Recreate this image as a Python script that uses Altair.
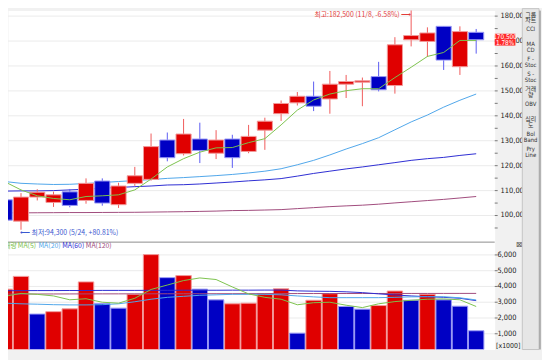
import altair as alt
import pandas as pd

# ---------------- data ----------------
idx = list(range(30))
opens = [106300, 97750, 107400, 105250, 109500, 106050, 113850, 104350, 112900, 114500,
         130300, 124800, 130700, 125000, 130700, 125700, 134250, 140850, 145200, 147850,
         146750, 152700, 153500, 155750, 152150, 170500, 169850, 175900, 159700, 173500]
highs = [106500, 109000, 110550, 109600, 110650, 114900, 114900, 113150, 119500, 132900,
         133300, 138750, 137250, 134250, 132400, 136350, 139250, 146150, 149550, 153750,
         158000, 156400, 155350, 161650, 171550, 182500, 175500, 176000, 175900, 174850]
lows = [98000, 94300, 106050, 103450, 103300, 104750, 103950, 103050, 111900, 114000,
        121750, 124100, 121050, 122650, 119100, 125000, 126350, 137950, 144150, 141900,
        140850, 147150, 143850, 149800, 148900, 167850, 163650, 158400, 156400, 164950]
closes = [98150, 107400, 109350, 108300, 104050, 112900, 105000, 111850, 115950, 127650,
          123200, 132700, 126100, 130300, 123200, 131750, 137850, 144950, 147850, 143850,
          152700, 153750, 154050, 150450, 168500, 172200, 173250, 162350, 173800, 170500]
volumes = [3830, 4640, 2250, 2400, 2580, 4290, 2920, 2625, 3500, 6020,
           4560, 4690, 3830, 3150, 2900, 2940, 3540, 3850, 1040, 3125,
           3540, 2730, 2560, 2790, 3710, 3125, 3500, 3150, 2750, 1190]
vol_up = [1, 1, 0, 1, 1, 1, 0, 0, 1, 1, 0, 1, 0, 0, 1, 1, 1, 1, 0, 1,
          1, 0, 0, 1, 1, 0, 1, 0, 0, 0]
ma5 = [113560, 110280, 107910, 106840, 106320, 107630, 107910, 108300, 110280, 114620,
       119490, 122810, 125420, 127150, 127270, 129250, 130830, 136360, 142290, 146360,
       148740, 150080, 150870, 150870, 155340, 159490, 163830, 165420, 170240, 170240]
ma20 = [113640, 112930, 112650, 112450, 112530, 112850, 113240, 113640, 114030, 114430,
        114900, 115220, 115610, 116010, 116480, 117080, 117790, 118770, 120360, 122130,
        124310, 126680, 128850, 131220, 134390, 137550, 140320, 143480, 146250, 148740]
ma60 = [109800, 109880, 109880, 110000, 110280, 110550, 110950, 111260, 111580, 111850,
        112250, 112370, 112650, 113040, 113440, 113910, 114310, 114820, 115810, 116880,
        117790, 118700, 119490, 120360, 121230, 122130, 122810, 123320, 124110, 124780]
ma120 = [101070, 101070, 101110, 101150, 101190, 101190, 101230, 101260, 101300, 101380,
         101460, 101540, 101660, 101780, 101980, 102060, 102210, 102370, 102770, 103160,
         103560, 103870, 104150, 104550, 105060, 105530, 106010, 106480, 107040, 107630]
vma5 = [3375, 3560, 3500, 3400, 3155, 3220, 3000, 2940, 3250, 3810,
        4090, 4375, 4540, 4440, 3970, 3530, 3310, 3190, 2840, 2970,
        3000, 2810, 2660, 2900, 3040, 3125, 3190, 3210, 3155, 2730]
vma20 = [2940, 2900, 2875, 2845, 2830, 2830, 2845, 2900, 3030, 3190,
         3310, 3375, 3440, 3470, 3500, 3500, 3500, 3470, 3400, 3340,
         3290, 3290, 3290, 3290, 3310, 3340, 3350, 3350, 3280, 3145]
vma60 = [3730, 3735, 3740, 3740, 3745, 3745, 3750, 3750, 3750, 3755,
         3755, 3760, 3760, 3760, 3765, 3765, 3770, 3770, 3720, 3700,
         3690, 3660, 3610, 3530, 3460, 3400, 3350, 3310, 3250, 3100]
vma120 = [3520, 3520, 3522, 3524, 3526, 3528, 3530, 3531, 3532, 3534,
          3536, 3538, 3540, 3541, 3542, 3544, 3546, 3548, 3550, 3551,
          3552, 3553, 3554, 3555, 3556, 3557, 3558, 3559, 3560, 3560]

price_labels = [100000, 110000, 120000, 130000, 140000, 150000, 160000, 170000, 180000]
price_ticks = [95000, 100000, 105000, 110000, 115000, 120000, 125000, 130000, 135000,
               140000, 145000, 150000, 155000, 160000, 165000, 170000, 175000, 180000]
vol_labels = [1000, 2000, 3000, 4000, 5000, 6000]

hi_text = "최고:182,500 (11/8, -6.58%) ⟶"
lo_text = "⟵ 최저:94,300 (5/24, +80.81%)"
last_text = "170,500\n1.78%"
legend_items = ["거래량", "MA(5)", "MA(20)", "MA(60)", "MA(120)"]
menu_items = ["그룹\n차트", "CCI", "MA\nCD", "F -\nStoc", "S -\nStoc", "거래\n량",
              "OBV", "심리\n도", "Bol\nBand", "Pry\nLine"]

# ---------------- styling ----------------
RED, BLUE = "#e00000", "#0000c4"
RED_EDGE, BLUE_EDGE = "#f29a9a", "#9a9af6"
RED_WICK, BLUE_WICK = "#f05a5a", "#5a5af2"
C_MA5, C_MA20, C_MA60, C_MA120 = "#7cc24c", "#4ea6ea", "#2c2cd2", "#a04a7c"
NUM = "Liberation Sans Narrow, DejaVu Sans Condensed, Liberation Sans, sans-serif"
CJK = "Noto Sans CJK KR"

W, H = 494, 344
xscale = alt.Scale(domain=[0.2, 30.14], nice=False, zero=False)
pscale = alt.Scale(domain=[46245, 182214], nice=False, zero=False)
vscale = alt.Scale(domain=[0, 21500], nice=False, zero=False)

df = pd.DataFrame({"i": idx, "open": opens, "high": highs, "low": lows, "close": closes,
                   "vol": volumes, "up": vol_up, "ma5": ma5, "ma20": ma20, "ma60": ma60,
                   "ma120": ma120, "vma5": vma5, "vma20": vma20, "vma60": vma60,
                   "vma120": vma120})
base = alt.Chart(df)
X = alt.X("i:Q", scale=xscale, axis=None)


def PY(f):
    return alt.Y(f, scale=pscale, axis=None)


def VY(f):
    return alt.Y(f, scale=vscale, axis=None)


rise = "datum.close >= datum.open"

# ---------------- price panel ----------------
p_grid = alt.Chart(pd.DataFrame({"p": price_labels})).mark_rule(
    color="#ebebeb", strokeWidth=1).encode(y=PY("p:Q"))
p_ticks = alt.Chart(pd.DataFrame({"p": price_ticks})).mark_rule(
    color="#777777", strokeWidth=1).encode(x=alt.value(494), x2=alt.value(497), y=PY("p:Q"))
p_text = alt.Chart(pd.DataFrame({"p": price_labels})).mark_text(
    align="left", baseline="middle", font=NUM, fontSize=7.5, color="#222222").encode(
    x=alt.value(500), y=PY("p:Q"), text=alt.Text("p:Q", format=","))

wick = base.mark_rule(clip=True, strokeWidth=1).encode(
    x=X, y=PY("low:Q"), y2="high:Q",
    color=alt.condition(rise, alt.value(RED_WICK), alt.value(BLUE_WICK)))
body = base.transform_calculate(x0="datum.i - 0.465", x1="datum.i + 0.465").mark_bar(
    clip=True, strokeWidth=1).encode(
    x=alt.X("x0:Q", scale=xscale, axis=None), x2="x1:Q",
    y=PY("open:Q"), y2="close:Q",
    fill=alt.condition(rise, alt.value(RED), alt.value(BLUE)),
    stroke=alt.condition(rise, alt.value(RED_EDGE), alt.value(BLUE_EDGE)))

ma_layers = [base.mark_line(clip=True, strokeWidth=1, color=c).encode(x=X, y=PY(f"{n}:Q"))
             for n, c in [("ma120", C_MA120), ("ma60", C_MA60), ("ma20", C_MA20), ("ma5", C_MA5)]]

hi_i = highs.index(max(highs))
lo_i = lows.index(min(lows))
hi_ann = alt.Chart(pd.DataFrame({"i": [hi_i], "p": [max(highs)], "t": [hi_text]})).mark_text(
    align="right", baseline="top", dy=1, font=CJK, fontSize=7, color="#e23c3c").encode(
    x=X, y=PY("p:Q"), text="t:N")
lo_ann = alt.Chart(pd.DataFrame({"i": [lo_i], "p": [min(lows)], "t": [lo_text]})).mark_text(
    align="left", baseline="middle", dx=-1, dy=3, font=CJK, fontSize=7, color="#3a58d0").encode(
    x=X, y=PY("p:Q"), text="t:N")

price_layer = alt.layer(p_grid, p_ticks, p_text, *ma_layers[:3], wick, body, ma_layers[3],
                        hi_ann, lo_ann)

# ---------------- volume panel ----------------
v_grid = alt.Chart(pd.DataFrame({"v": vol_labels})).mark_rule(
    color="#ebebeb", strokeWidth=1).encode(y=VY("v:Q"))
v_ticks = alt.Chart(pd.DataFrame({"v": vol_labels})).mark_rule(
    color="#777777", strokeWidth=1).encode(x=alt.value(494), x2=alt.value(497), y=VY("v:Q"))
v_text = alt.Chart(pd.DataFrame({"v": vol_labels})).mark_text(
    align="right", baseline="middle", font=NUM, fontSize=7.5, color="#222222").encode(
    x=alt.value(516), y=VY("v:Q"), text=alt.Text("v:Q", format=","))
up_c = "datum.up == 1"
v_bars = base.transform_calculate(x0="datum.i - 0.475", x1="datum.i + 0.475", z="0").mark_bar(
    clip=True, strokeWidth=1).encode(
    x=alt.X("x0:Q", scale=xscale, axis=None), x2="x1:Q",
    y=VY("vol:Q"), y2="z:Q",
    fill=alt.condition(up_c, alt.value(RED), alt.value(BLUE)),
    stroke=alt.condition(up_c, alt.value(RED_EDGE), alt.value(BLUE_EDGE)))
vma_layers = [base.mark_line(clip=True, strokeWidth=1, color=c).encode(x=X, y=VY(f"{n}:Q"))
              for n, c in [("vma120", C_MA120), ("vma60", C_MA60), ("vma20", C_MA20), ("vma5", C_MA5)]]
vol_layer = alt.layer(v_grid, v_ticks, v_text, v_bars, *vma_layers)

# ---------------- decorations ----------------
one = pd.DataFrame({"k": [0]})
sep = alt.Chart(one).mark_rule(color="#8c8c8c", strokeWidth=1).encode(
    x=alt.value(0), x2=alt.value(494), y=alt.value(235))
leg_colors = [C_MA5, C_MA5, C_MA20, C_MA60, C_MA120]
leg_x = [9, 10, 31, 55, 79]
legend = [alt.Chart(one).mark_text(
    align="right" if j == 0 else "left", baseline="middle", font=CJK, fontSize=7,
    color=leg_colors[j], clip=True).encode(
    x=alt.value(leg_x[j]), y=alt.value(239), text=alt.value(t))
    for j, t in enumerate(legend_items)]
close_box = alt.Chart(one).mark_text(font="DejaVu Sans", fontSize=8, color="#555555").encode(
    x=alt.value(519), y=alt.value(238), text=alt.value("⊠"))
unit = alt.Chart(one).mark_text(align="right", baseline="middle", font=NUM, fontSize=7,
                                color="#222222").encode(
    x=alt.value(520), y=alt.value(340), text=alt.value("[x1000]"))
menu_bg = alt.Chart(one).mark_rect(fill="#e6e6e6", stroke="#c4c4c4", strokeWidth=1).encode(
    x=alt.value(522), x2=alt.value(539), y=alt.value(-2), y2=alt.value(344))
edge = alt.Chart(one).mark_rule(color="#7a7a7a", strokeWidth=1).encode(
    x=alt.value(540), y=alt.value(0), y2=alt.value(344))
menu = [alt.Chart(one).mark_text(align="center", baseline="middle", font=f"{NUM}, {CJK}",
                                 fontSize=6, lineHeight=6, lineBreak="\n",
                                 color="#333333").encode(
    x=alt.value(530.5), y=alt.value(4 + 15.2 * j), text=alt.value(t))
    for j, t in enumerate(menu_items)]
last_box = alt.Chart(one).mark_rect(fill="#ff2a2a").encode(
    x=alt.value(494), x2=alt.value(515), y=alt.value(23.5), y2=alt.value(35.5))
last_lbl = alt.Chart(one).mark_text(align="center", baseline="middle", font=NUM, fontSize=6.5,
                                    lineHeight=6, lineBreak="\n", color="white").encode(
    x=alt.value(504.5), y=alt.value(27), text=alt.value(last_text))

chart = alt.layer(
    price_layer, vol_layer, sep, *legend, close_box, unit, menu_bg, edge, *menu,
    last_box, last_lbl
).resolve_scale(y="independent").properties(
    width=W, height=H,
    padding={"left": 0, "top": 0, "right": 48, "bottom": 8},
    autosize=alt.AutoSizeParams(type="none"),
    background="#f1f1f1",
).configure_view(fill="white", stroke="transparent")

chart.save("out.html", embed_options={"renderer": "svg", "actions": False})
